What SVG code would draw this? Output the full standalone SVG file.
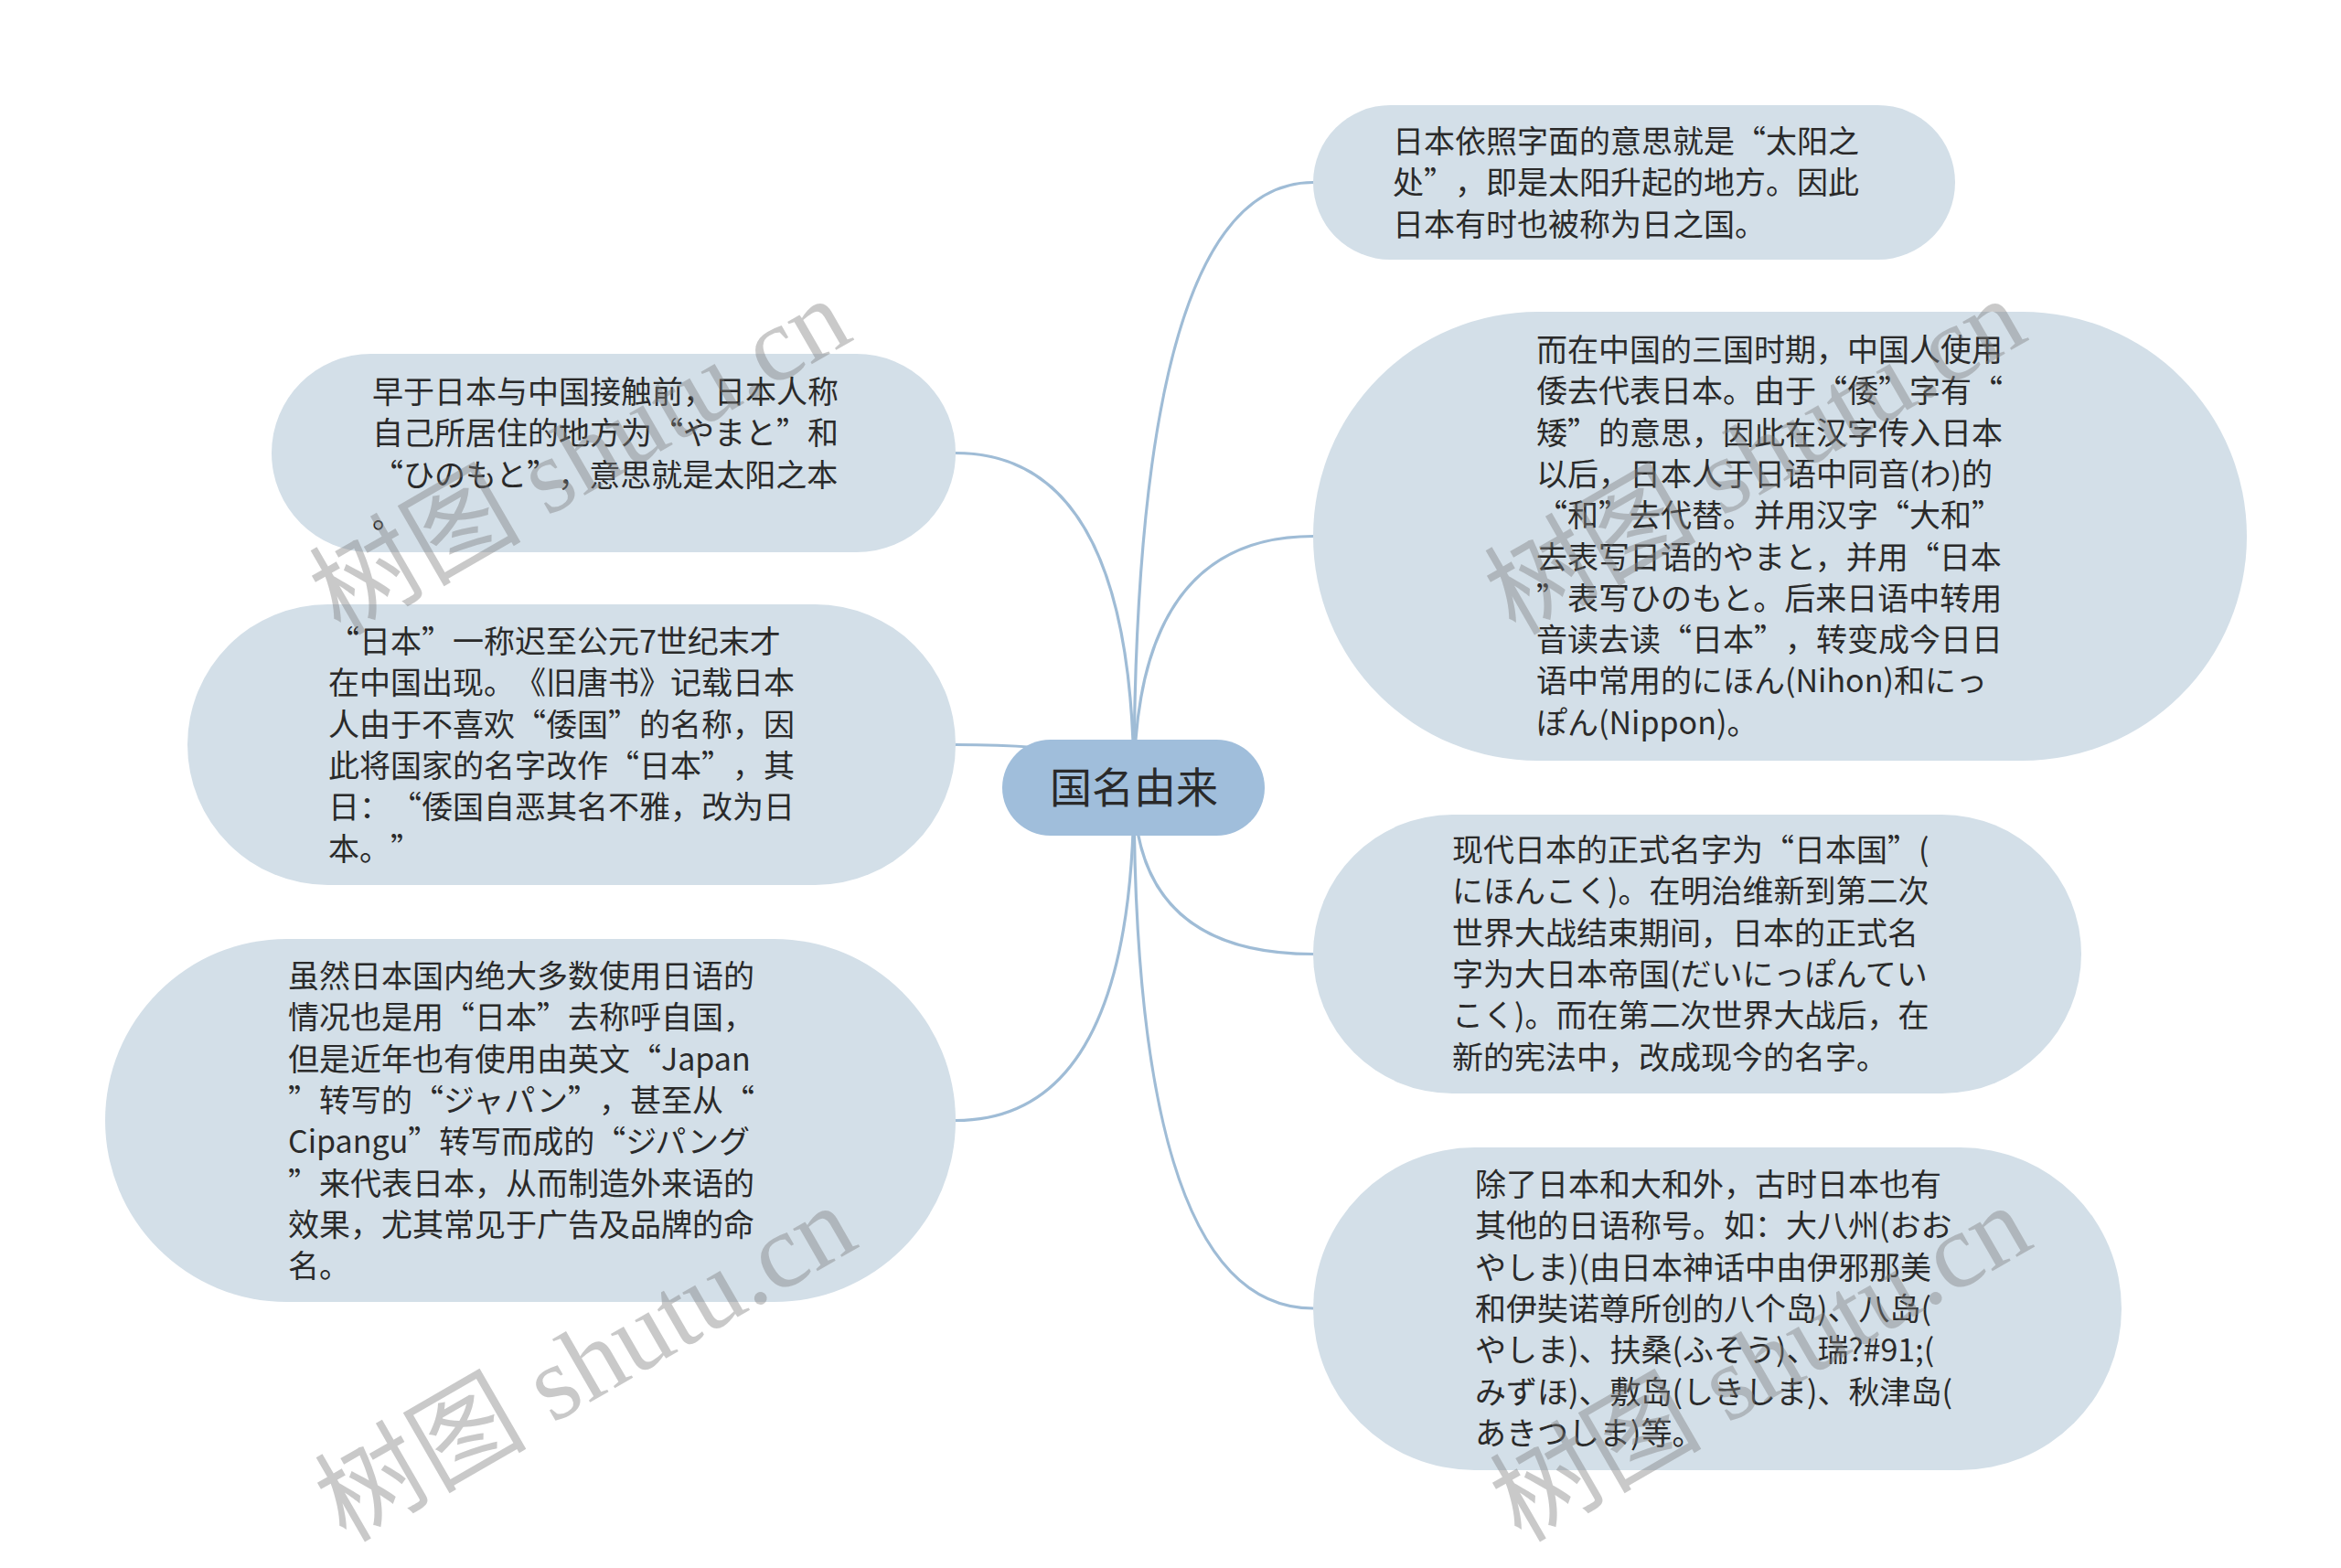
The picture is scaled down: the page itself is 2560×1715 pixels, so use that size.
<svg xmlns="http://www.w3.org/2000/svg" width="2560" height="1715" viewBox="0 0 2560 1715">
<style>
.edge{fill:none;stroke:#9fbcd6;stroke-width:3.2;stroke-linecap:round}
.box{fill:#d3dfe8}
.root{fill:#a0bedb}
.t{font-family:"Noto Sans CJK SC","Noto Sans",sans-serif;font-size:34px;fill:#2a2a2a;text-spacing-trim:space-all}
.rt{font-family:"Noto Sans CJK SC","Noto Sans",sans-serif;font-size:46px;fill:#2a2a2a;text-anchor:middle}
.wm{font-family:"Liberation Serif","Noto Sans CJK SC",serif;font-size:116px;fill:#7f7f7f;fill-opacity:0.42}
</style>
<rect width="2560" height="1715" fill="#ffffff"/>
<g id="connectors">
<path class="edge" d="M1240,861 Q1240,199.5 1436,199.5"/>
<path class="edge" d="M1240,861 Q1240,586.5 1436,586.5"/>
<path class="edge" d="M1240,861 Q1240,1043.5 1436,1043.5"/>
<path class="edge" d="M1240,861 Q1240,1431 1436,1431"/>
<path class="edge" d="M1240,861 Q1240,495.5 1045,495.5"/>
<path class="edge" d="M1240,861 Q1240,814.5 1045,814.5"/>
<path class="edge" d="M1240,861 Q1240,1225.5 1045,1225.5"/>
</g>
<g id="root">
<rect class="root" x="1096" y="809" width="287" height="105" rx="52.5"/>
<text class="rt" x="1240" y="878">国名由来</text>
</g>
<g id="r1">
<rect class="box" x="1436" y="115" width="702" height="169" rx="84.5"/>
<text class="t" x="1523" y="167"><tspan x="1523">日本依照字面的意思就是“太阳之</tspan><tspan x="1523" dy="45.3">处”，即是太阳升起的地方。因此</tspan><tspan x="1523" dy="45.3">日本有时也被称为日之国。</tspan></text>
</g>
<g id="r2">
<rect class="box" x="1436" y="341" width="1021" height="491" rx="245.5"/>
<text class="t" x="1680" y="395"><tspan x="1680">而在中国的三国时期，中国人使用</tspan><tspan x="1680" dy="45.3">倭去代表日本。由于“倭”字有“</tspan><tspan x="1680" dy="45.3">矮”的意思，因此在汉字传入日本</tspan><tspan x="1680" dy="45.3">以后，日本人于日语中同音(わ)的</tspan><tspan x="1680" dy="45.3">“和”去代替。并用汉字“大和”</tspan><tspan x="1680" dy="45.3">去表写日语的やまと，并用“日本</tspan><tspan x="1680" dy="45.3">”表写ひのもと。后来日语中转用</tspan><tspan x="1680" dy="45.3">音读去读“日本”，转变成今日日</tspan><tspan x="1680" dy="45.3">语中常用的にほん(Nihon)和にっ</tspan><tspan x="1680" dy="45.3">ぽん(Nippon)。</tspan></text>
</g>
<g id="r3">
<rect class="box" x="1436" y="891" width="840" height="305" rx="152.5"/>
<text class="t" x="1588" y="942"><tspan x="1588">现代日本的正式名字为“日本国”(</tspan><tspan x="1588" dy="45.3">にほんこく)。在明治维新到第二次</tspan><tspan x="1588" dy="45.3">世界大战结束期间，日本的正式名</tspan><tspan x="1588" dy="45.3">字为大日本帝国(だいにっぽんてい</tspan><tspan x="1588" dy="45.3">こく)。而在第二次世界大战后，在</tspan><tspan x="1588" dy="45.3">新的宪法中，改成现今的名字。</tspan></text>
</g>
<g id="r4">
<rect class="box" x="1436" y="1255" width="884" height="353" rx="176.5"/>
<text class="t" x="1613" y="1308"><tspan x="1613">除了日本和大和外，古时日本也有</tspan><tspan x="1613" dy="45.3">其他的日语称号。如：大八州(おお</tspan><tspan x="1613" dy="45.3">やしま)(由日本神话中由伊邪那美</tspan><tspan x="1613" dy="45.3">和伊奘诺尊所创的八个岛)、八岛(</tspan><tspan x="1613" dy="45.3">やしま)、扶桑(ふそう)、瑞?#91;(</tspan><tspan x="1613" dy="45.3">みずほ)、敷岛(しきしま)、秋津岛(</tspan><tspan x="1613" dy="45.3">あきつしま)等。</tspan></text>
</g>
<g id="l1">
<rect class="box" x="297" y="387" width="748" height="217" rx="108.5"/>
<text class="t" x="407" y="441"><tspan x="407">早于日本与中国接触前，日本人称</tspan><tspan x="407" dy="45.3">自己所居住的地方为“やまと”和</tspan><tspan x="407" dy="45.3">“ひのもと”，意思就是太阳之本</tspan><tspan x="407" dy="45.3">。</tspan></text>
</g>
<g id="l2">
<rect class="box" x="205" y="661" width="840" height="307" rx="153.5"/>
<text class="t" x="359" y="714"><tspan x="359">“日本”一称迟至公元7世纪末才</tspan><tspan x="359" dy="45.3">在中国出现。《旧唐书》记载日本</tspan><tspan x="359" dy="45.3">人由于不喜欢“倭国”的名称，因</tspan><tspan x="359" dy="45.3">此将国家的名字改作“日本”，其</tspan><tspan x="359" dy="45.3">日：“倭国自恶其名不雅，改为日</tspan><tspan x="359" dy="45.3">本。”</tspan></text>
</g>
<g id="l3">
<rect class="box" x="115" y="1027" width="930" height="397" rx="198.5"/>
<text class="t" x="315" y="1080"><tspan x="315">虽然日本国内绝大多数使用日语的</tspan><tspan x="315" dy="45.3">情况也是用“日本”去称呼自国，</tspan><tspan x="315" dy="45.3">但是近年也有使用由英文“Japan</tspan><tspan x="315" dy="45.3">”转写的“ジャパン”，甚至从“</tspan><tspan x="315" dy="45.3">Cipangu”转写而成的“ジパング</tspan><tspan x="315" dy="45.3">”来代表日本，从而制造外来语的</tspan><tspan x="315" dy="45.3">效果，尤其常见于广告及品牌的命</tspan><tspan x="315" dy="45.3">名。</tspan></text>
</g>
<g id="watermarks">
<text class="wm" transform="translate(372,696) rotate(-30)">树图 shutu.cn</text>
<text class="wm" transform="translate(1657,696) rotate(-30)">树图 shutu.cn</text>
<text class="wm" transform="translate(378,1688) rotate(-30)">树图 shutu.cn</text>
<text class="wm" transform="translate(1663,1688) rotate(-30)">树图 shutu.cn</text>
</g>
</svg>
